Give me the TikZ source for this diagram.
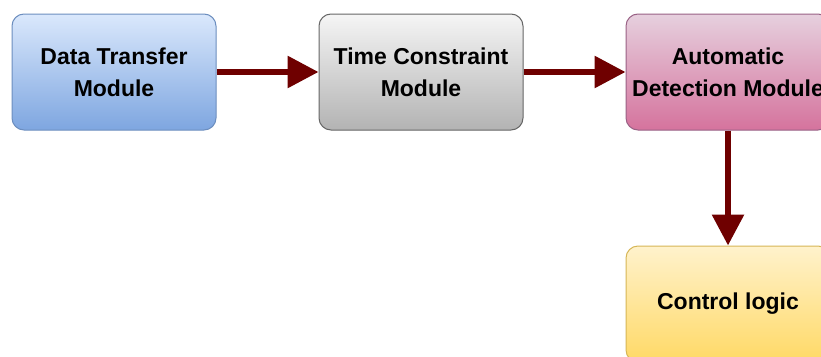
\documentclass[tikz,border=0pt]{standalone}
\usepackage{fontspec}
\setmainfont{Liberation Sans}
\usetikzlibrary{arrows.meta}
\definecolor{arr}{HTML}{6F0000}
\definecolor{blueT}{HTML}{DAE8FC}\definecolor{blueB}{HTML}{7EA6E0}\definecolor{blueS}{HTML}{6C8EBF}
\definecolor{grayT}{HTML}{F5F5F5}\definecolor{grayB}{HTML}{B3B3B3}\definecolor{grayS}{HTML}{666666}
\definecolor{pinkT}{HTML}{E6D0DE}\definecolor{pinkB}{HTML}{D5739D}\definecolor{pinkS}{HTML}{996185}
\definecolor{yelT}{HTML}{FFF2CC}\definecolor{yelB}{HTML}{FFD966}\definecolor{yelS}{HTML}{D6B656}
\tikzset{
  modbox/.style={rounded corners=12pt, minimum width=204pt, minimum height=116pt, inner sep=0pt,
    align=center, line width=1pt, font=\fontsize{23}{32}\selectfont\bfseries},
  bluebox/.style={modbox, draw=blueS, top color=blueT, bottom color=blueB},
  graybox/.style={modbox, draw=grayS, top color=grayT, bottom color=grayB},
  pinkbox/.style={modbox, draw=pinkS, top color=pinkT, bottom color=pinkB},
  yelbox/.style={modbox, draw=yelS, top color=yelT, bottom color=yelB},
  flow/.style={draw=arr, line width=6pt, -{Triangle[length=31pt,width=31pt]}, fill=arr}
}
\begin{document}
\begin{tikzpicture}[x=1pt,y=-1pt]
\useasboundingbox (0,0) rectangle (821,356);
\clip (0,0) rectangle (821,356);
\fill[white] (0,0) rectangle (821,356);
\node[bluebox] (dt) at (114,72) {Data Transfer\\Module};
\node[graybox] (tc) at (421,72) {Time Constraint\\Module};
\node[pinkbox] (ad) at (728,72) {Automatic\\Detection Module};
\node[yelbox] (cl) at (728,304) {Control logic};
\draw[flow] (dt) -- (tc);
\draw[flow] (tc) -- (ad);
\draw[flow] (ad) -- (cl);
\end{tikzpicture}
\end{document}
